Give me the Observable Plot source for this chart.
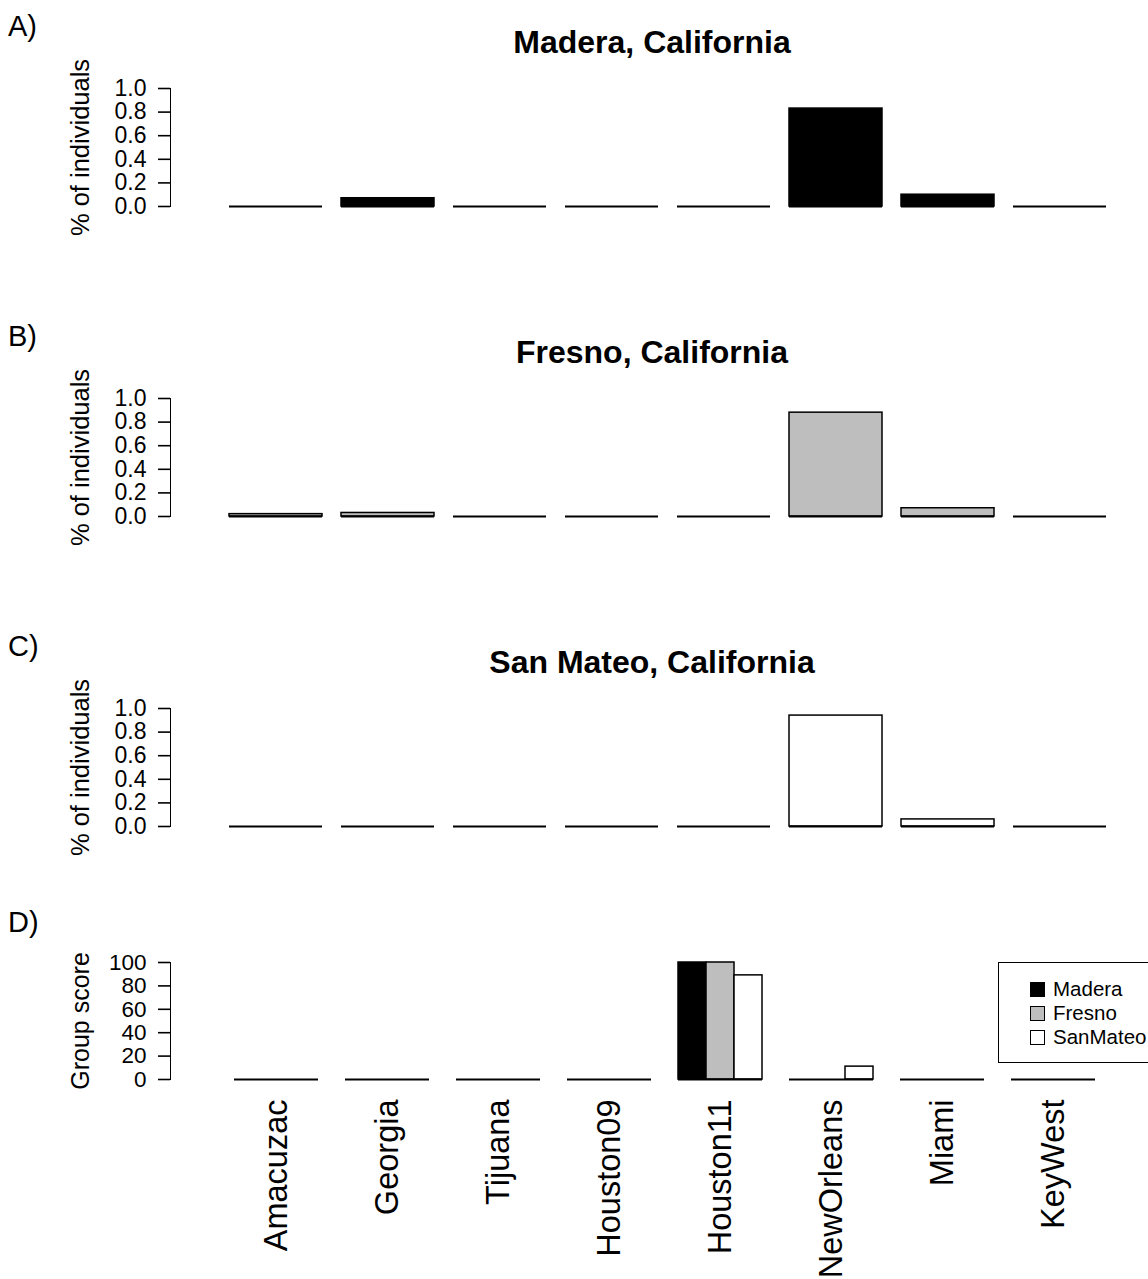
<!DOCTYPE html>
<html>
<head>
<meta charset="utf-8">
<script src="https://cdn.jsdelivr.net/npm/d3@7"></script>
<script src="https://cdn.jsdelivr.net/npm/@observablehq/plot@0.6"></script>
<style>
  html, body { margin: 0; padding: 0; background: #fff; }
  #root { position: relative; width: 1148px; height: 1279px; overflow: hidden; background: #fff;
          font-family: "Liberation Sans", Arial, Helvetica, sans-serif; color: #000; }
  .abs { position: absolute; }
  .letter { font-size: 29px; line-height: 29px; }
  .title { font-size: 32px; line-height: 32px; font-weight: bold; width: 600px; text-align: center; }
  .legend { border: 1.5px solid #000; background: #fff; box-sizing: border-box; }
  .legrow { position: absolute; left: 31px; font-size: 20.5px; line-height: 20px; white-space: nowrap; }
  .sw { display: inline-block; width: 13px; height: 13px; border: 1.5px solid #000; margin-right: 8px; vertical-align: -1px; }
  #root svg g[aria-label="y-axis tick"] path, #root svg g[aria-label="y-axis line"] line,
  #root svg g[aria-label="y-axis line"] path, #root svg g[aria-label="rule"] line { stroke-width: 1.6px; }
</style>
</head>
<body>
<div id="root"></div>
<script>
// ---------- data ----------
const cities = ["Amacuzac", "Georgia", "Tijuana", "Houston09", "Houston11", "NewOrleans", "Miami", "KeyWest"];
const maderaShare   = [0.00, 0.07, 0.00, 0.00, 0.00, 0.83, 0.10, 0.00];
const fresnoShare   = [0.02, 0.03, 0.00, 0.00, 0.00, 0.88, 0.07, 0.00];
const sanMateoShare = [0.00, 0.00, 0.00, 0.00, 0.00, 0.94, 0.06, 0.00];
const shareTicks = [0, 0.2, 0.4, 0.6, 0.8, 1.0];

const groupNames = ["Madera", "Fresno", "SanMateo"];
const scoreMadera   = [0, 0, 0, 0, 100, 0, 0, 0];
const scoreFresno   = [0, 0, 0, 0, 100, 0, 0, 0];
const scoreSanMateo = [0, 0, 0, 0, 89, 11, 0, 0];
const scoreTicks = [0, 20, 40, 60, 80, 100];

const panelTitles = ["Madera, California", "Fresno, California", "San Mateo, California"];
const panelLetters = ["A)", "B)", "C)", "D)"];
const groupColors = ["#000000", "#bebebe", "#ffffff"];

// ---------- layout ----------
const root = document.getElementById("root");
const FONT = '"Liberation Sans", Arial, Helvetica, sans-serif';
function place(el, left, top) {
  el.style.position = "absolute";
  el.style.left = left + "px";
  el.style.top = top + "px";
  root.appendChild(el);
  return el;
}
function div(cls, text, left, top) {
  const d = document.createElement("div");
  d.className = "abs " + cls;
  d.textContent = text;
  return place(d, left, top);
}

const shareSeries = [maderaShare, fresnoShare, sanMateoShare];
const panelAxisTop = [88, 398, 708];   // y pixel of value 1.0
const axisHeight = 118;

shareSeries.forEach((vals, i) => {
  const rows = cities.map((c, j) => ({city: c, value: vals[j]}));
  const mt = 20, mb = 10;
  const chart = Plot.plot({
    width: 1148,
    height: axisHeight + mt + mb,
    marginTop: mt, marginBottom: mb, marginLeft: 170, marginRight: 0,
    style: {fontFamily: FONT, fontSize: "23px", color: "#000", background: "transparent", overflow: "visible"},
    x: {domain: cities, range: [227, 1108], paddingInner: 0.2 / 1.2, paddingOuter: 0, axis: null},
    y: {domain: [0, 1], ticks: shareTicks, tickFormat: d3.format(".1f"), tickSize: 12, tickPadding: 12,
        line: true, label: null},
    marks: [
      Plot.barY(rows, {x: "city", y: "value", fill: groupColors[i], stroke: "#000", strokeWidth: 1.5}),
      Plot.tickY(rows, {x: "city", y: () => 0, stroke: "#000", strokeWidth: 2}),
      Plot.text(["% of individuals"], {frameAnchor: "left", textAnchor: "middle", rotate: -90, dx: -90,
                                       fontSize: 25.5, text: d => d})
    ]
  });
  place(chart, 0, panelAxisTop[i] - mt);
  div("title", panelTitles[i], 652 - 300, panelAxisTop[i] - 62);
  div("letter", panelLetters[i], 8, panelAxisTop[i] - 76);
});

// ---------- panel D ----------
const scoreSeries = [scoreMadera, scoreFresno, scoreSanMateo];
const scoreRows = [];
cities.forEach((c, j) => {
  groupNames.forEach((g, k) => scoreRows.push({city: c, group: g, value: scoreSeries[k][j]}));
});
const dTop = 962, dH = 117, dmt = 20, dmb = 200;

const bars = Plot.plot({
  width: 1148,
  height: dH + dmt + dmb,
  marginTop: dmt, marginBottom: dmb, marginLeft: 170, marginRight: 0,
  style: {fontFamily: FONT, fontSize: "22.5px", color: "#000", background: "transparent", overflow: "visible"},
  fx: {domain: cities, range: [232, 1097], paddingInner: 25 / 112, paddingOuter: 0, label: null},
  x: {domain: groupNames, padding: 0, axis: null},
  y: {domain: [0, 100], axis: null},
  color: {domain: groupNames, range: groupColors},
  marks: [
    Plot.barY(scoreRows, {fx: "city", x: "group", y: "value", fill: "group", stroke: "#000", strokeWidth: 1.5}),
    Plot.tickY(scoreRows, {fx: "city", x: "group", y: () => 0, stroke: "#000", strokeWidth: 2}),
    Plot.axisFx({anchor: "bottom", tickRotate: -90, tickSize: 0, tickPadding: 20, fontSize: 32.5, label: null})
  ]
});
place(bars, 0, dTop - dmt);

const yAxisD = Plot.plot({
  width: 200,
  height: dH + dmt + 10,
  marginTop: dmt, marginBottom: 10, marginLeft: 170, marginRight: 0,
  style: {fontFamily: FONT, fontSize: "22.5px", color: "#000", background: "transparent", overflow: "visible"},
  y: {domain: [0, 100], ticks: scoreTicks, tickSize: 12, tickPadding: 12, line: true, label: null},
  marks: [
    Plot.ruleY([0], {stroke: "none"}),
    Plot.text(["Group score"], {frameAnchor: "left", textAnchor: "middle", rotate: -90, dx: -90,
                                fontSize: 25, text: d => d})
  ]
});
place(yAxisD, 0, dTop - dmt);
div("letter", panelLetters[3], 8, dTop - 54);

// legend
const leg = document.createElement("div");
leg.className = "abs legend";
leg.style.width = "170px";
leg.style.height = "101px";
place(leg, 998, 962);
groupNames.forEach((g, k) => {
  const r = document.createElement("div");
  r.className = "legrow";
  r.style.top = (16 + k * 24) + "px";
  const sw = document.createElement("span");
  sw.className = "sw";
  sw.style.background = groupColors[k];
  r.appendChild(sw);
  r.appendChild(document.createTextNode(g));
  leg.appendChild(r);
});
</script>
</body>
</html>
